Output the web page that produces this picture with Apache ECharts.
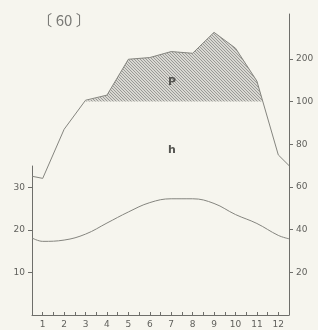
<!DOCTYPE html>
<html><head><meta charset="utf-8">
<script src="https://cdn.jsdelivr.net/npm/echarts@6/dist/echarts.min.js"></script>
<style>html,body{margin:0;padding:0;background:#f6f5ee}#c{width:318px;height:330px}</style>
</head><body><div id="c"></div>
<script>
// ---- data ----
const months = [1,2,3,4,5,6,7,8,9,10,11,12];
const tempEdges = [18.1, 17.9];                 // curve value at left / right frame edge (°C)
const temp = [17.3, 17.6, 19.0, 21.6, 24.2, 26.4, 27.3, 27.3, 26.2, 23.6, 21.5, 18.7];
const precipEdges = [65, 70];                   // line value at left / right frame edge (mm)
const precip = [64, 87, 103, 115, 199, 203, 217, 213, 262, 225, 148, 75];
const tempTicks = [10, 20, 30];
const precipTicks = [20, 40, 60, 80, 100, 200];
const stationNote = '〔 60 〕';

// Walter–Lieth scale: linear up to 100 mm, 1/5 scale above
const toD = p => p <= 100 ? p : 100 + (p - 100) * 0.2;
const fromD = d => d <= 100 ? d : 100 + (d - 100) * 5;

const xs = [0.5].concat(months, [12.5]);
const tempPts = xs.map((x, i) => [x, i === 0 ? tempEdges[0] : i === xs.length - 1 ? tempEdges[1] : temp[i - 1]]);
const precipD = [precipEdges[0]].concat(precip, [precipEdges[1]]).map(toD);
const precipPts = xs.map((x, i) => [x, precipD[i]]);

// hatched part: polyline clipped at 100
const hatchPts = [];
for (let i = 0; i < precipPts.length; i++) {
  const [x, d] = precipPts[i];
  if (i > 0) {
    const [x0, d0] = precipPts[i - 1];
    if ((d0 - 100) * (d - 100) < 0) {
      const t = (100 - d0) / (d - d0);
      hatchPts.push([x0 + t * (x - x0), 100]);
    }
  }
  hatchPts.push([x, Math.max(d, 100)]);
}

// hatch pattern (3px diagonal "\" lines)
const pc = document.createElement('canvas');
pc.width = 3; pc.height = 3;
const g = pc.getContext('2d');
g.fillStyle = '#d9d8d2'; g.fillRect(0, 0, 3, 3);
g.fillStyle = '#9a9a96';
for (let k = 0; k < 3; k++) g.fillRect(k, k, 1, 1);

const font = 'DejaVu Sans';
const axCol = '#6e6e6a';
const txtCol = '#5f5f5b';

const chart = echarts.init(document.getElementById('c'));
chart.setOption({
  backgroundColor: '#f6f5ee',
  animation: false,
  grid: [
    {left: 32, right: 29, top: 14, bottom: 15, outerBoundsMode: 'none'},
    {left: 32, right: 29, top: 166, bottom: 15, outerBoundsMode: 'none'}
  ],
  xAxis: [
    {gridIndex: 0, type: 'value', min: 0.5, max: 12.5, show: false},
    {gridIndex: 1, type: 'value', min: 0.5, max: 12.5, interval: 0.5,
     axisLine: {lineStyle: {color: axCol, width: 1}},
     axisTick: {inside: true, length: 3, lineStyle: {color: axCol}},
     splitLine: {show: false},
     axisLabel: {color: txtCol, fontFamily: font, fontSize: 9, margin: 5,
       formatter: v => Number.isInteger(v) ? String(v) : ''}}
  ],
  yAxis: [
    {gridIndex: 0, type: 'value', position: 'right', min: 0, max: 141,
     axisLine: {show: true, lineStyle: {color: axCol, width: 1}},
     axisTick: {show: true, length: 4, customValues: precipTicks.map(toD), lineStyle: {color: axCol}},
     splitLine: {show: false},
     axisLabel: {color: txtCol, fontFamily: font, fontSize: 9, margin: 7,
       customValues: precipTicks.map(toD), formatter: v => String(Math.round(fromD(v)))}},
    {gridIndex: 1, type: 'value', position: 'left', min: 0, max: 35,
     axisLine: {show: true, lineStyle: {color: axCol, width: 1}},
     axisTick: {show: true, length: 4, customValues: tempTicks, lineStyle: {color: axCol}},
     splitLine: {show: false},
     axisLabel: {color: txtCol, fontFamily: font, fontSize: 9, margin: 7, customValues: tempTicks}}
  ],
  series: [
    {type: 'line', xAxisIndex: 0, yAxisIndex: 0, data: hatchPts, symbol: 'none',
     lineStyle: {width: 0}, areaStyle: {origin: 100, opacity: 1, color: {image: pc, repeat: 'repeat'}}, z: 1},
    {type: 'line', xAxisIndex: 0, yAxisIndex: 0, data: precipPts, symbol: 'none',
     lineStyle: {color: '#85857f', width: 1}, z: 3},
    {type: 'line', xAxisIndex: 1, yAxisIndex: 1, data: tempPts, symbol: 'none', smooth: 0.4,
     lineStyle: {color: '#85857f', width: 1}, z: 3}
  ],
  graphic: [
    {type: 'text', z: 100, x: 64, y: 20, style: {text: stationNote, font: '15px "Noto Sans CJK JP"', fill: '#7a7a76', align: 'center', verticalAlign: 'middle'}},
    {type: 'text', z: 100, x: 172, y: 82, style: {text: 'P', font: 'bold 11px "DejaVu Sans"', fill: '#555551', align: 'center', verticalAlign: 'middle'}},
    {type: 'text', z: 100, x: 172, y: 150, style: {text: 'h', font: 'bold 11px "DejaVu Sans"', fill: '#555551', align: 'center', verticalAlign: 'middle'}}
  ]
});
</script></body></html>
